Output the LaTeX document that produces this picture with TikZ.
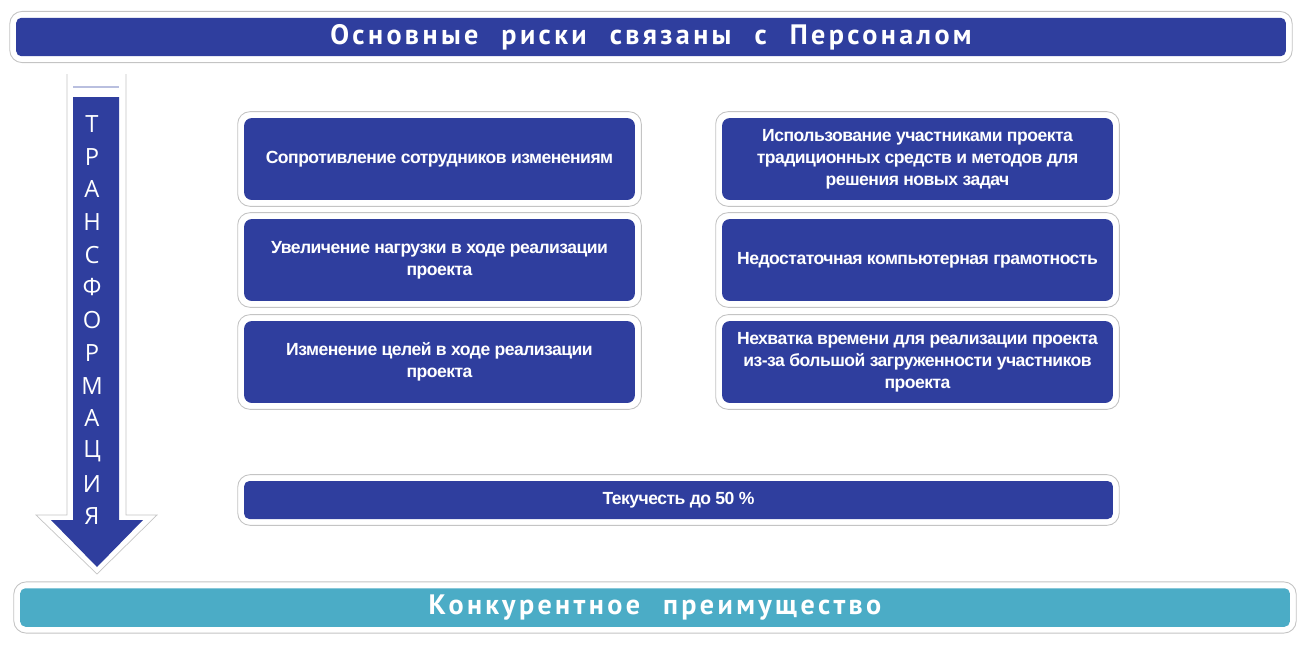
\documentclass[tikz,border=0pt]{standalone}
\usepackage{fontspec}
\setmainfont{Liberation Sans}
\newfontfamily\titrefont{PT Sans}[LetterSpace=12,WordSpace=2.2]
\newfontfamily\boitefont{Liberation Sans}[LetterSpace=-3]
\newfontfamily\lettrefont{Open Sans}
\usepackage{tikz}
\usetikzlibrary{positioning,fit,backgrounds}
\definecolor{bleu}{HTML}{2F3E9E}
\definecolor{turquoise}{HTML}{4BACC6}
\definecolor{gris}{HTML}{C4C4C4}
\definecolor{bleupale}{HTML}{B9BFDF}
\tikzset{
  boite/.style={fill=bleu,rounded corners=4.5pt,text=white,align=center,
                font=\boitefont\bfseries\fontsize{10}{12.5}\selectfont,inner sep=0pt,
                minimum width=7.82cm,minimum height=1.64cm},
  cadre/.style={draw=gris,fill=white,rounded corners=7pt,inner sep=0.12cm,line width=0.5pt},
  bandeau/.style={rounded corners=3pt,text=white,inner sep=0pt,minimum width=25.4cm,
                  minimum height=0.77cm,font=\titrefont\bfseries\fontsize{16}{19}\selectfont},
}

\begin{document}
\begin{tikzpicture}[x=0.02cm,y=-0.02cm, lettre/.style={text=white,inner sep=0pt,font=\lettrefont\fontsize{13.5}{15}\selectfont}]
  \useasboundingbox (0,0) rectangle (1305,646);
  \node[bandeau,fill=bleu] (titre) at (651,37) {Основные риски связаны с Персоналом};
  \node[boite] (g1) at (439.5,159) {Сопротивление сотрудников изменениям};
  \node[boite] (g2) at (439.5,260) {Увеличение нагрузки в ходе реализации\\проекта};
  \node[boite] (g3) at (439.5,362) {Изменение целей в ходе реализации\\проекта};
  \node[boite] (d1) at (917.5,159) {Использование участниками проекта\\традиционных средств и методов для\\решения новых задач};
  \node[boite] (d2) at (917.5,260) {Недостаточная компьютерная грамотность};
  \node[boite] (d3) at (917.5,362) {Нехватка времени для реализации проекта\\из-за большой загруженности участников\\проекта};
  \node[boite,minimum width=17.38cm,minimum height=0.76cm,rounded corners=3pt] (tx) at (678.5,500) {Текучесть до 50 \%};
  \node[bandeau,fill=turquoise] (avantage) at (655,607.5) {Конкурентное преимущество};
  \begin{scope}[on background layer]
    \foreach \n in {titre,g1,g2,g3,d1,d2,d3,tx,avantage} \node[cadre,fit=(\n)] {};
  \end{scope}
  \draw[gris] (67,74) -- (67,515) -- (36,515) -- (97,574) -- (157,515) -- (126,515) -- (126,74);
  \fill[bleu] (73,97) -- (119,97) -- (119,520) -- (143,520) -- (97,567) -- (51,520) -- (73,520) -- cycle;
  \draw[bleupale,line width=1pt] (73,87) -- (119,87);
  \foreach \c [count=\i] in {Т,Р,А,Н,С,Ф,О,Р,М,А,Ц,И,Я}
    \node[lettre] (l\i) at (92,{124+32.7*(\i-1)}) {\c};
\end{tikzpicture}
\end{document}
